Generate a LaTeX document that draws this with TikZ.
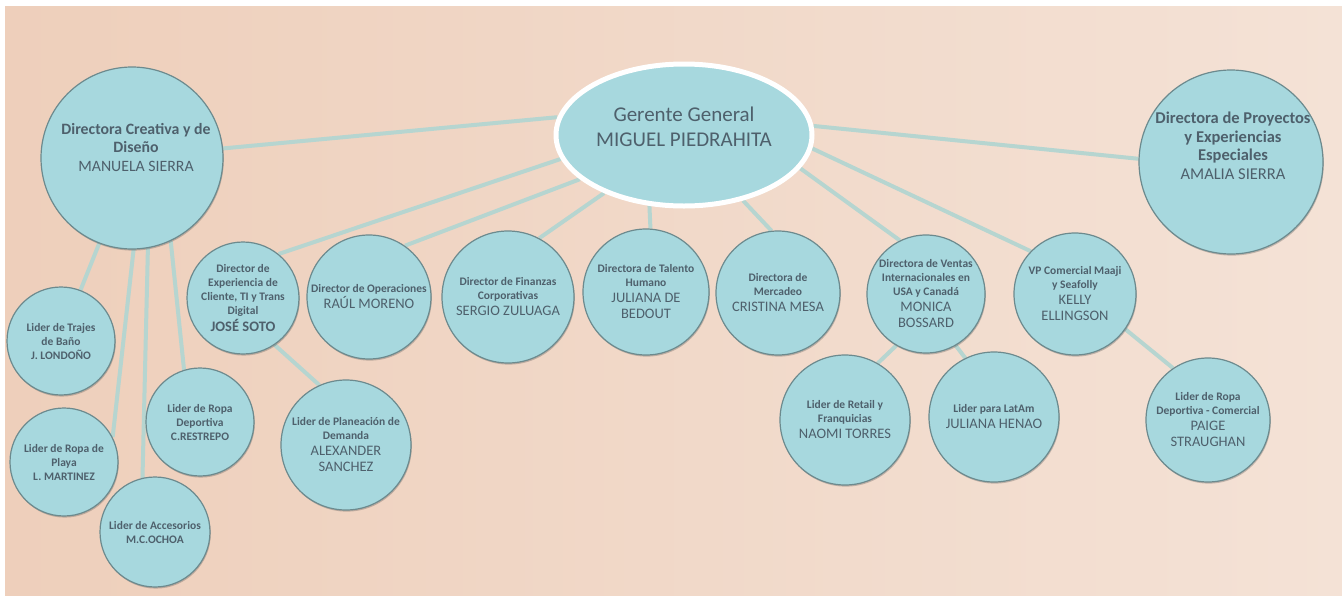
\documentclass[tikz,border=0pt]{standalone}
\usepackage{fontspec}
\setmainfont{Carlito}
\usetikzlibrary{shapes.geometric,backgrounds,shadows}
\definecolor{bgA}{RGB}{238,207,187}
\definecolor{bgB}{RGB}{244,226,214}
\definecolor{cfill}{RGB}{167,216,222}
\definecolor{cedge}{RGB}{108,138,142}
\definecolor{lcol}{RGB}{182,213,208}
\definecolor{tcol}{RGB}{78,96,108}
\newcommand\labf{\fontsize{11.5}{14}\selectfont\bfseries}
\newcommand\namef{\fontsize{14.5}{16}\selectfont\mdseries}
\tikzset{
  pers/.style={circle, fill=cfill, draw=cedge, line width=1.2pt, inner sep=0pt,
    minimum size=#1, text=tcol, align=center, font=\labf,
    drop shadow={shadow xshift=0.8pt, shadow yshift=-1.6pt, opacity=0.3, fill=black!70}},
  tx/.style={text=tcol, align=center, inner sep=0pt},
  conn/.style={draw=lcol, line width=4pt},
}
\begin{document}
\begin{tikzpicture}[x=1pt,y=-1pt]
\useasboundingbox (0,0) rectangle (1342,595);
% top
\node[ellipse, fill=cfill, draw=white, line width=5pt, minimum width=256pt, minimum height=142pt,
  drop shadow={shadow xshift=0.6pt, shadow yshift=-1.2pt, opacity=0.3, fill=black!60}] (g) at (684,135) {};
\node[tx, font=\fontsize{21}{25}\selectfont] (gt) at (684,127) {Gerente General\\MIGUEL PIEDRAHITA};
\node[pers=182pt] (dc) at (132,158) {};
\node[tx, font=\fontsize{15.8}{18.5}\selectfont\bfseries] (dct) at (136,147) {Directora Creativa y de\\Diseño\\{\mdseries MANUELA SIERRA}};
\node[pers=184pt] (as) at (1231,162) {};
\node[tx, font=\fontsize{16.5}{18.5}\selectfont\bfseries] (ast) at (1233,146) {Directora de Proyectos\\y Experiencias\\Especiales\\{\mdseries AMALIA SIERRA}};
% directors
\node[pers=112pt] (js) at (243,298) {Director de\\Experiencia de\\Cliente, TI y Trans\\Digital\\[1pt]{\namef\bfseries JOSÉ SOTO}};
\node[pers=124pt] (rm) at (369,297) {Director de Operaciones\\[2pt]{\namef RAÚL MORENO}};
\node[pers=132pt] (sz) at (508,297) {Director de Finanzas\\Corporativas\\[2pt]{\namef SERGIO ZULUAGA}};
\node[pers=126pt] (jb) at (646,292) {Directora de Talento\\Humano\\[2pt]{\namef JULIANA DE}\\[2pt]{\namef BEDOUT}};
\node[pers=124pt] (cm) at (778,293) {Directora de\\Mercadeo\\[2pt]{\namef CRISTINA MESA}};
\node[pers=118pt] (mb) at (926,294) {Directora de Ventas\\Internacionales en\\USA y Canadá\\[2pt]{\namef MONICA}\\[2pt]{\namef BOSSARD}};
\node[pers=122pt] (ke) at (1075,294) {VP Comercial Maaji\\y Seafolly\\[2pt]{\namef KELLY}\\[2pt]{\namef ELLINGSON}};
% second level
\node[pers=130pt] (ax) at (346,445) {Lider de Planeación de\\Demanda\\[2pt]{\namef ALEXANDER}\\[2pt]{\namef SANCHEZ}};
\node[pers=130pt] (nt) at (845,420) {Lider de Retail y\\Franquicias\\[2pt]{\namef NAOMI TORRES}};
\node[pers=130pt] (jh) at (994,417) {Lider para LatAm\\[2pt]{\namef JULIANA HENAO}};
\node[pers=124pt] (ps) at (1208,420) {Lider de Ropa\\Deportiva - Comercial\\[2pt]{\namef PAIGE}\\[2pt]{\namef STRAUGHAN}};
\node[pers=108pt] (tb) at (61,341) {Lider de Trajes\\de Baño\\J. LONDOÑO};
\node[pers=108pt] (rp) at (64,462) {Lider de Ropa de\\Playa\\L. MARTINEZ};
\node[pers=108pt] (rd) at (200,422) {Lider de Ropa\\Deportiva\\C.RESTREPO};
\node[pers=110pt] (ac) at (155,532) {Lider de Accesorios\\M.C.OCHOA};
\begin{scope}[on background layer]
  \fill[white] (0,0) rectangle (1342,595);
  \shade[left color=bgA, right color=bgB] (5,6) rectangle (1342,595);
  \draw[conn] (g.172) -- (dc.6);
  \draw[conn] (g.191) -- (js.51);
  \draw[conn] (g.203) -- (rm.55);
  \draw[conn] (g.216) -- (sz.62);
  \draw[conn] (g.244) -- (jb.86);
  \draw[conn] (g.312) -- (cm.96);
  \draw[conn] (g.-16) -- (mb.116);
  \draw[conn] (g.-6) -- (ke.136);
  \draw[conn] (g.4) -- (as.178);
  \draw[conn] (dc.-111) -- (tb.69);
  \draw[conn] (dc.-89) -- (rp.27);
  \draw[conn] (dc.-80) -- (ac.103);
  \draw[conn] (dc.-65) -- (rd.107);
  \draw[conn] (js.-56) -- (ax.114);
  \draw[conn] (mb.-120) -- (nt.60);
  \draw[conn] (mb.-60) -- (jh.116);
  \draw[conn] (ke.-35) -- (ps.124);
\end{scope}
\end{tikzpicture}
\end{document}
